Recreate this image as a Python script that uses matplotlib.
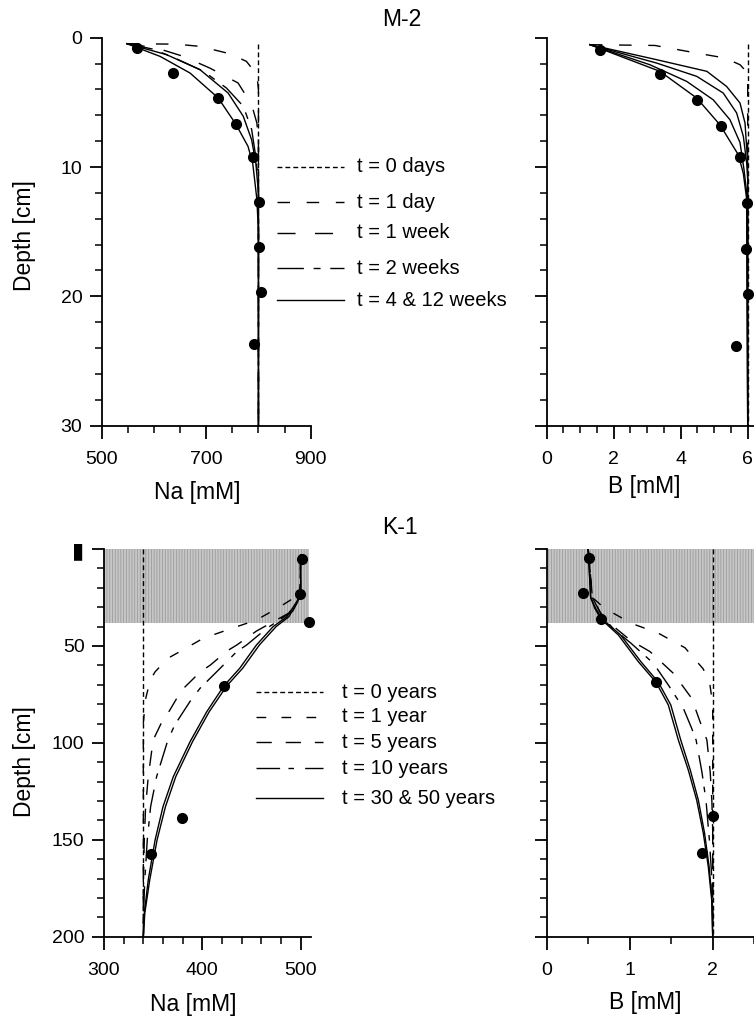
import matplotlib
matplotlib.use("Agg")
import matplotlib.pyplot as plt
from matplotlib.lines import Line2D
from matplotlib.ticker import MultipleLocator, FixedLocator, FixedFormatter

plt.rcParams['font.family'] = ['Liberation Sans', 'DejaVu Sans']
plt.rcParams['lines.scale_dashes'] = False
plt.rcParams['hatch.linewidth'] = 0.6

W, H = 754, 1018

# ---- M-2, Na ----
m2_na_obs = [567, 637, 723, 757, 790, 802, 802, 805, 791]
m2_na_obs_depth = [0.8, 2.7, 4.7, 6.7, 9.2, 12.7, 16.2, 19.7, 23.7]
m2_na_t0 = [800, 800]
m2_na_t0_depth = [0.5, 30]
m2_na_1d = [548, 643, 688, 745, 777, 797, 800, 800]
m2_na_1d_depth = [0.46, 0.5, 0.67, 1.24, 1.83, 2.86, 4.0, 30]
m2_na_1w = [548, 605, 656, 707, 761, 787, 797, 800, 800]
m2_na_1w_depth = [0.46, 0.8, 1.44, 2.35, 3.5, 5.18, 6.6, 8.0, 30]
m2_na_2w = [548, 600, 644, 695, 739, 771, 787, 793, 800, 800]
m2_na_2w_depth = [0.46, 0.9, 1.65, 2.6, 3.9, 5.3, 7.1, 8.7, 11.0, 30]
m2_na_4w = [548, 624, 688, 742, 771, 787, 795, 800, 800]
m2_na_4w_depth = [0.46, 1.31, 2.47, 4.28, 6.08, 7.9, 9.7, 12.0, 30]
m2_na_12w = [548, 612, 669, 723, 757, 780, 789, 797, 800, 800]
m2_na_12w_depth = [0.46, 1.45, 2.73, 4.66, 6.7, 8.4, 9.7, 12.5, 15.0, 30]

# ---- M-2, B ----
m2_b_obs = [1.59, 3.38, 4.5, 5.19, 5.77, 5.97, 5.96, 6.02, 5.65]
m2_b_obs_depth = [0.93, 2.78, 4.8, 6.8, 9.2, 12.8, 16.3, 19.8, 23.8]
m2_b_t0 = [6.0, 6.0]
m2_b_t0_depth = [0.5, 30]
m2_b_1d = [1.29, 3.23, 4.48, 5.32, 5.77, 6.0, 6.0]
m2_b_1d_depth = [0.54, 0.6, 1.19, 1.57, 2.09, 2.73, 30]
m2_b_1w = [1.29, 3.28, 4.78, 5.37, 5.77, 5.92, 6.0, 6.0]
m2_b_1w_depth = [0.54, 1.7, 2.6, 3.77, 5.05, 6.6, 9.7, 30]
m2_b_2w = [1.29, 3.28, 4.48, 5.27, 5.67, 5.87, 5.97, 6.0, 6.0]
m2_b_2w_depth = [0.54, 1.96, 2.99, 4.28, 5.82, 7.63, 9.7, 11.0, 30]
m2_b_4w = [1.29, 3.08, 4.18, 4.97, 5.47, 5.77, 5.89, 5.97, 6.0]
m2_b_4w_depth = [0.54, 2.09, 3.38, 4.8, 6.34, 8.1, 10.2, 12.0, 30]
m2_b_12w = [1.29, 3.38, 4.48, 5.17, 5.72, 5.87, 5.97, 6.0]
m2_b_12w_depth = [0.54, 2.6, 4.67, 6.73, 9.05, 10.5, 12.5, 30]

# ---- K-1, Na ----
k1_na_obs = [501, 499, 508, 422, 379, 347.5]
k1_na_obs_depth = [5.1, 23.3, 37.4, 70.5, 138.6, 157.3]
k1_na_t0 = [340, 340]
k1_na_t0_depth = [0, 200]
k1_na_1y = [500, 500, 479, 455, 430, 401, 374, 365, 352, 347, 342, 340, 340]
k1_na_1y_depth = [3, 23, 29.7, 36.6, 40.9, 46, 53.8, 56.3, 63.3, 67.5, 78, 90, 200]
k1_na_5y = [500, 499, 488, 455, 435, 425, 408, 398, 381, 376, 364, 359, 350, 345, 342.3, 341, 340, 340]
k1_na_5y_depth = [3, 25, 33, 42.3, 49.5, 52.6, 59.9, 63.3, 71.8, 75.3, 85.6, 89, 98.5, 117.4, 132.9, 150, 170, 200]
k1_na_10y = [500, 499, 492, 465.5, 445, 435, 414.6, 397.7, 387.5, 380.7, 372, 365, 353.5, 347.4, 344, 341.5, 340, 340]
k1_na_10y_depth = [3, 25, 32, 40.9, 49.5, 52.9, 63.3, 71.8, 78.6, 83.9, 90.7, 98.5, 117.4, 132.9, 150, 170.7, 190, 200]
k1_na_30y = [500, 500, 496, 486, 472, 455, 438, 422, 404.5, 387.5, 370.5, 360, 352, 345, 341, 340]
k1_na_30y_depth = [3, 23, 27.1, 34.9, 40, 49.5, 61.5, 70.5, 83.9, 99.4, 117.4, 132.9, 150, 170.7, 187.8, 200]
k1_na_50y = [500, 500, 497, 488, 475, 458, 441, 425, 407, 390, 373, 362.5, 354, 346.5, 341.5, 340]
k1_na_50y_depth = [3, 23, 27.1, 34.9, 40, 49.5, 61.5, 70.5, 83.9, 99.4, 117.4, 132.9, 150, 170.7, 187.8, 200]

# ---- K-1, B ----
k1_b_obs = [0.513, 0.433, 0.654, 1.317, 2.007, 1.867]
k1_b_obs_depth = [4.4, 22.5, 36.1, 68.7, 137.7, 156.6]
k1_b_t0 = [2.0, 2.0]
k1_b_t0_depth = [0, 200]
k1_b_1y = [0.5, 0.55, 0.70, 1.02, 1.345, 1.666, 1.887, 1.967, 2.0, 2.0]
k1_b_1y_depth = [0, 25, 30.6, 38.3, 43.4, 50.9, 61.9, 70.1, 80, 200]
k1_b_5y = [0.5, 0.55, 0.65, 0.823, 1.004, 1.245, 1.526, 1.747, 1.847, 1.93, 1.97, 1.99, 2.0, 2.0]
k1_b_5y_depth = [0, 25, 33, 40.5, 46.9, 52.9, 64.1, 77, 89, 98.5, 115, 130, 145, 200]
k1_b_10y = [0.5, 0.55, 0.66, 0.8, 1.016, 1.285, 1.465, 1.646, 1.747, 1.80, 1.87, 1.92, 1.96, 1.99, 2.0, 2.0]
k1_b_10y_depth = [0, 25, 34, 41, 48.6, 58.9, 70.1, 82.1, 92.5, 98.5, 115, 130, 150, 170, 190, 200]
k1_b_30y = [0.5, 0.53, 0.58, 0.654, 0.863, 1.104, 1.317, 1.465, 1.586, 1.706, 1.807, 1.887, 1.947, 1.988, 2.0]
k1_b_30y_depth = [0, 25, 30.6, 36.1, 44.3, 58.1, 68.7, 80.4, 98.5, 114, 129.5, 146.6, 163.9, 181, 200]
k1_b_50y = [0.5, 0.53, 0.59, 0.67, 0.89, 1.135, 1.345, 1.495, 1.615, 1.73, 1.827, 1.902, 1.957, 1.992, 2.0]
k1_b_50y_depth = [0, 25, 30.6, 36.1, 44.3, 58.1, 68.7, 80.4, 98.5, 114, 129.5, 146.6, 163.9, 181, 200]

shade_depth = [0, 38]

m2_labels = ['t = 0 days', 't = 1 day', 't = 1 week', 't = 2 weeks', 't = 4 & 12 weeks']
k1_labels = ['t = 0 years', 't = 1 year', 't = 5 years', 't = 10 years', 't = 30 & 50 years']

# line styles (absolute dash lengths in points)
ls_m2 = [(0, (3.5, 2.2)), (0, (9, 12)), (0, (13, 14)), (0, (19, 7, 5, 7)), '-']
ls_k1 = [(0, (3.5, 2.2)), (0, (7, 11)), (0, (11, 10)), (0, (17, 6, 4, 8)), '-']
LW = 1.0
SHADE = dict(facecolor='#c6c6c6', edgecolor='#9c9c9c', hatch='||||||', linewidth=0, zorder=0)


def rect(x0, x1, y0, y1):
    return [x0 / W, 1 - y1 / H, (x1 - x0) / W, (y1 - y0) / H]


def style_axes(ax, show_ylabels=True):
    for s in ['top', 'right']:
        ax.spines[s].set_visible(False)
    for s in ['left', 'bottom']:
        ax.spines[s].set_linewidth(1.3)
    ax.tick_params(which='major', direction='out', length=9, width=1.3, labelsize=14)
    ax.tick_params(which='minor', direction='out', length=5, width=1.1)
    ax.tick_params(axis='x', which='major', pad=9)
    ax.tick_params(axis='y', which='major', pad=5)
    if not show_ylabels:
        ax.tick_params(axis='y', labelleft=False)


fig = plt.figure(figsize=(W / 100, H / 100), dpi=100)

# ---------------- M-2 Na ----------------
ax1 = fig.add_axes(rect(101.7, 310.7, 37.7, 425.7))
ax1.plot(m2_na_t0, m2_na_t0_depth, color='k', lw=LW, ls=ls_m2[0])
ax1.plot(m2_na_1d, m2_na_1d_depth, color='k', lw=LW, ls=ls_m2[1])
ax1.plot(m2_na_1w, m2_na_1w_depth, color='k', lw=LW, ls=ls_m2[2])
ax1.plot(m2_na_2w, m2_na_2w_depth, color='k', lw=LW, ls=ls_m2[3])
ax1.plot(m2_na_4w, m2_na_4w_depth, color='k', lw=LW, ls='-')
ax1.plot(m2_na_12w, m2_na_12w_depth, color='k', lw=LW, ls='-')
ax1.plot(m2_na_obs, m2_na_obs_depth, 'o', color='k', ms=7, clip_on=False)
ax1.set_xlim(500, 900)
ax1.set_ylim(30, 0)
ax1.xaxis.set_major_locator(FixedLocator([500, 700, 900]))
ax1.xaxis.set_minor_locator(MultipleLocator(50))
ax1.yaxis.set_major_locator(MultipleLocator(10))
ax1.yaxis.set_minor_locator(MultipleLocator(2))
style_axes(ax1)

# ---------------- M-2 B ----------------
ax2 = fig.add_axes(rect(546.7, 546.7 + 6.5 * 33.5, 37.7, 425.7))
ax2.plot(m2_b_t0, m2_b_t0_depth, color='k', lw=LW, ls=ls_m2[0])
ax2.plot(m2_b_1d, m2_b_1d_depth, color='k', lw=LW, ls=ls_m2[1])
ax2.plot(m2_b_1w, m2_b_1w_depth, color='k', lw=LW, ls='-')
ax2.plot(m2_b_2w, m2_b_2w_depth, color='k', lw=LW, ls='-')
ax2.plot(m2_b_4w, m2_b_4w_depth, color='k', lw=LW, ls='-')
ax2.plot(m2_b_12w, m2_b_12w_depth, color='k', lw=LW, ls='-')
ax2.plot(m2_b_obs, m2_b_obs_depth, 'o', color='k', ms=7, clip_on=False)
ax2.set_xlim(0, 6.5)
ax2.set_ylim(30, 0)
ax2.xaxis.set_major_locator(FixedLocator([0, 2, 4, 6]))
ax2.xaxis.set_minor_locator(MultipleLocator(0.5))
ax2.yaxis.set_major_locator(MultipleLocator(10))
ax2.yaxis.set_minor_locator(MultipleLocator(2))
style_axes(ax2, show_ylabels=False)

# ---------------- K-1 Na ----------------
ax3 = fig.add_axes(rect(104, 310.5, 549.1, 936.7))
ax3.fill_betweenx(shade_depth, 300, 508, **SHADE)
ax3.plot(k1_na_t0, k1_na_t0_depth, color='k', lw=LW, ls=ls_k1[0])
ax3.plot(k1_na_1y, k1_na_1y_depth, color='k', lw=LW, ls=ls_k1[1])
ax3.plot(k1_na_5y, k1_na_5y_depth, color='k', lw=LW, ls=ls_k1[2])
ax3.plot(k1_na_10y, k1_na_10y_depth, color='k', lw=LW, ls=ls_k1[3])
ax3.plot(k1_na_30y, k1_na_30y_depth, color='k', lw=LW, ls='-')
ax3.plot(k1_na_50y, k1_na_50y_depth, color='k', lw=LW, ls='-')
ax3.plot(k1_na_obs, k1_na_obs_depth, 'o', color='k', ms=7, clip_on=False)
ax3.set_xlim(300, 510)
ax3.set_ylim(200, 0)
ax3.xaxis.set_major_locator(MultipleLocator(100))
ax3.xaxis.set_minor_locator(MultipleLocator(20))
ax3.yaxis.set_major_locator(FixedLocator([0, 50, 100, 150, 200]))
ax3.yaxis.set_major_formatter(FixedFormatter(['\u25ae', '50', '100', '150', '200']))
ax3.yaxis.set_minor_locator(MultipleLocator(10))
style_axes(ax3)
ax3.yaxis.get_major_ticks()[0].label1.set_fontsize(16)

# ---------------- K-1 B ----------------
ax4 = fig.add_axes(rect(546.7, 546.7 + 2.6 * 83, 549.1, 936.7))
ax4.fill_betweenx(shade_depth, 0, 2.6, **SHADE)
ax4.plot(k1_b_t0, k1_b_t0_depth, color='k', lw=LW, ls=ls_k1[0])
ax4.plot(k1_b_1y, k1_b_1y_depth, color='k', lw=LW, ls=ls_k1[1])
ax4.plot(k1_b_5y, k1_b_5y_depth, color='k', lw=LW, ls=ls_k1[2])
ax4.plot(k1_b_10y, k1_b_10y_depth, color='k', lw=LW, ls=ls_k1[3])
ax4.plot(k1_b_30y, k1_b_30y_depth, color='k', lw=LW, ls='-')
ax4.plot(k1_b_50y, k1_b_50y_depth, color='k', lw=LW, ls='-')
ax4.plot(k1_b_obs, k1_b_obs_depth, 'o', color='k', ms=7, clip_on=False)
ax4.set_xlim(0, 2.6)
ax4.set_ylim(200, 0)
ax4.xaxis.set_major_locator(FixedLocator([0, 1, 2]))
ax4.xaxis.set_minor_locator(MultipleLocator(0.5))
ax4.yaxis.set_major_locator(MultipleLocator(50))
ax4.yaxis.set_minor_locator(MultipleLocator(10))
style_axes(ax4, show_ylabels=False)

# ---------------- texts ----------------
def ftext(x, y, s, **kw):
    fig.text(x / W, 1 - y / H, s, **kw)

ftext(402, 20, 'M-2', fontsize=16.5, ha='center', va='center')
ftext(400, 527, 'K-1', fontsize=16.5, ha='center', va='center')
ftext(25, 236, 'Depth [cm]', fontsize=16.5, rotation=90, ha='center', va='center')
ftext(25, 762, 'Depth [cm]', fontsize=16.5, rotation=90, ha='center', va='center')
ftext(197, 493, 'Na [mM]', fontsize=16.5, ha='center', va='center')
ftext(644, 487, 'B [mM]', fontsize=16.5, ha='center', va='center')
ftext(193, 1005, 'Na [mM]', fontsize=16.5, ha='center', va='center')
ftext(645, 1003, 'B [mM]', fontsize=16.5, ha='center', va='center')

# ---------------- legends (drawn by hand) ----------------
m2_rows = [167, 202, 233, 268, 300]
for lab, ls, yy in zip(m2_labels, ls_m2, m2_rows):
    fig.add_artist(Line2D([277 / W, 344 / W], [1 - yy / H, 1 - yy / H],
                          color='k', lw=LW, ls=ls))
    ftext(357, yy, lab, fontsize=14.5, ha='left', va='center')

k1_rows = [692, 717, 742, 768, 798]
for lab, ls, yy in zip(k1_labels, ls_k1, k1_rows):
    fig.add_artist(Line2D([256 / W, 323 / W], [1 - yy / H, 1 - yy / H],
                          color='k', lw=LW, ls=ls))
    ftext(342, yy, lab, fontsize=14.5, ha='left', va='center')

fig.savefig('out.png', dpi=100)
